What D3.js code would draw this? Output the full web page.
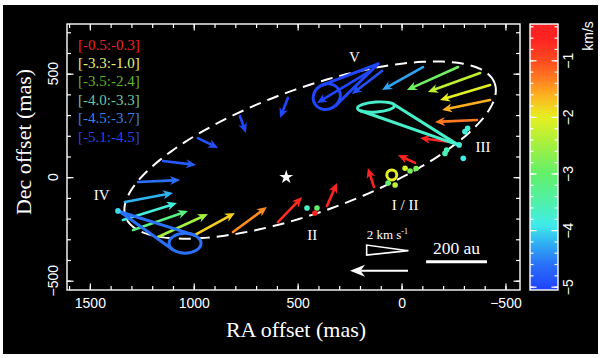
<!DOCTYPE html>
<html>
<head>
<meta charset="utf-8">
<script src="https://cdn.jsdelivr.net/npm/d3@7"></script>
<style>
  html, body { margin: 0; padding: 0; background: #fff; }
  svg { display: block; }
</style>
</head>
<body>
<div id="chart"></div>
<script>
// Axes (mas) and colour bar (km/s)
const xMajor = [1500, 1000, 500, 0, -500];
const yMajor = [500, 0, -500];
const cbMajor = [-1, -2, -3, -4, -5];

// Velocity colour map
const cStops  = [-5.1, -4.6, -4.2, -3.9, -3.5, -3.0, -2.5, -2.0, -1.6, -1.3, -1.0, -0.6, -0.3];
const cColors = ["#1e3cff", "#2a70f8", "#30b4f2", "#40ecea", "#50f0aa", "#62f06a",
                 "#a2f040", "#e6f020", "#ffb020", "#ff7a20", "#ff4a20", "#ff2222", "#ff2222"];

// Velocity-range legend
const rangeLabels = ["[-0.5:-0.3]", "[-3.3:-1.0]", "[-3.5:-2.4]", "[-4.0:-3.3]", "[-4.5:-3.7]", "[-5.1:-4.5]"];
const rangeColors = ["#ee2222", "#e8f07a", "#66b42c", "#6cc8a2", "#3c82e6", "#2846e2"];

// Proper-motion arrows: [RA0, Dec0, RA1, Dec1, v]  (mas, km/s)
const arrows = [
  [980, 189, 883, 141, -4.9],
  [778, 296, 749, 214, -5.0],
  [547, 383, 585, 286, -5.0],
  [1148, 78, 989, 59, -4.8],
  [1268, -23, 1066, -14, -4.6],
  [1331, -120, 1100, -76, -4.2],
  [1341, -207, 1081, -125, -3.8],
  [1292, -255, 1028, -163, -3.2],
  [1172, -289, 932, -178, -2.5],
  [994, -279, 802, -173, -1.8],
  [811, -265, 648, -144, -1.4],
  [595, -217, 479, -96, -0.7],
  [359, -139, 311, -28, -0.5],
  [133, -47, 162, 44, -0.5],
  [-65, 69, 17, 107, -0.5],
  [-238, 170, -89, 189, -0.6],
  [-363, 276, -161, 267, -1.3],
  [-426, 373, -195, 325, -1.6],
  [-426, 445, -185, 373, -2.0],
  [-378, 503, -127, 412, -2.3],
  [-272, 532, -26, 421, -2.9],
  [-103, 532, 94, 421, -4.3],
  [142, 518, 407, 358, -5.0],
  [94, 513, 239, 402, -4.9]
];

// Loops with tails: [RA, Dec, rx, ry (mas), tilt (deg), tipRA, tipDec, v]
const loops = [
  [360, 389, 67, 60, -30, 113, 547, -5.0],   // V
  [123, 339, 89, 24, -4, -272, 156, -3.7],   // III
  [1042, -319, 77, 48, 0, 1355, -167, -4.6]  // IV
];

// Small closed ring near I / II: [RA, Dec, r (mas), v]
const rings = [[47, 11, 24, -2.0]];

// Maser spots: [RA, Dec, v]
const spots = [
  [-318, 236, -3.8], [-305, 220, -3.8], [-277, 156, -3.8], [-297, 91, -3.9],
  [-217, 131, -3.6], [-209, 115, -3.6],
  [-17, 43, -2.1], [-41, 30, -2.8], [-70, 42, -2.8], [65, -28, -3.0], [31, -38, -2.3],
  [455, -149, -3.7], [407, -149, -3.0], [417, -173, -0.5],
  [1365, -163, -4.0]
];

// Feature names
const featureNames = ["V", "III", "IV", "I / II", "II"];
const featureRA    = [227, -392, 1443, -17, 430];
const featureDec   = [579, 147, -86, -134, -279];

// Star and fitted ring: centre (mas), semi-axes (mas), PA (deg)
const star = [555, 0];
const ring = [440, 131, 945, 299, 20];

// Keys: 200 au bar and 2 km/s arrow (mas)
const auBar = [-118, -411, -408];
const velKey = [-31, 248, -452];
const velTriangle = [[168, -328], [168, -376], [-33, -355]];

// ---------------------------------------------------------------
const W = 600, H = 358;
const svg = d3.select("#chart").append("svg").attr("width", W).attr("height", H);

svg.append("rect").attr("x", 3).attr("y", 5).attr("width", 595).attr("height", 349).attr("fill", "#000");

const x = d3.scaleLinear().domain([1610, -570]).range([67, 520]);
const y = d3.scaleLinear().domain([-545, 740]).range([290, 24]);
const cb = d3.scaleLinear().domain([-5.05, -0.35]).range([290, 24]);
const vColor = d3.scaleLinear().domain(cStops).range(cColors).clamp(true);

const serif = "'Liberation Serif', 'Times New Roman', serif";
const sans = "'Liberation Sans', Arial, sans-serif";

// --- frame ticks (inward on all sides)
const xMinor = d3.range(1600, -600, -100);
const yMinor = d3.range(-500, 800, 100);
const fmt = d => (d < 0 ? "\u2212" + Math.abs(d) : String(d));

function addAxis(axis, tx, ty, labels) {
  const g = svg.append("g").attr("transform", `translate(${tx},${ty})`).call(axis);
  g.select(".domain").remove();
  g.selectAll("line").attr("stroke", "#fff").attr("stroke-width", 1.2);
  if (!labels) g.selectAll("text").remove();
  return g;
}
const bx = addAxis(d3.axisBottom(x).tickValues(xMajor).tickSizeInner(-6.5).tickSizeOuter(0).tickPadding(8).tickFormat(fmt), 0, 290, true);
bx.selectAll("text").attr("fill", "#fff").style("font-family", sans).style("font-size", "14px");
addAxis(d3.axisBottom(x).tickValues(xMinor).tickSizeInner(-4).tickSizeOuter(0), 0, 290, false);
addAxis(d3.axisTop(x).tickValues(xMajor).tickSizeInner(-6.5).tickSizeOuter(0), 0, 24, false);
addAxis(d3.axisTop(x).tickValues(xMinor).tickSizeInner(-4).tickSizeOuter(0), 0, 24, false);
addAxis(d3.axisLeft(y).tickValues(yMajor).tickSizeInner(-6.5).tickSizeOuter(0), 67, 0, false);
addAxis(d3.axisLeft(y).tickValues(yMinor).tickSizeInner(-4).tickSizeOuter(0), 67, 0, false);
addAxis(d3.axisRight(y).tickValues(yMajor).tickSizeInner(-6.5).tickSizeOuter(0), 520, 0, false);
addAxis(d3.axisRight(y).tickValues(yMinor).tickSizeInner(-4).tickSizeOuter(0), 520, 0, false);

// y tick labels, rotated
svg.selectAll("text.ylab")
  .data(yMajor)
  .join("text")
  .attr("class", "ylab")
  .attr("transform", d => `translate(58,${y(d)}) rotate(-90)`)
  .attr("text-anchor", "middle")
  .attr("fill", "#fff")
  .style("font-family", sans)
  .style("font-size", "14px")
  .text(fmt);

// axis titles
svg.append("text")
  .attr("x", 296).attr("y", 337)
  .attr("text-anchor", "middle")
  .attr("fill", "#fff")
  .style("font-family", serif).style("font-size", "22px")
  .text("RA offset (mas)");
svg.append("text")
  .attr("transform", "translate(31,142) rotate(-90)")
  .attr("text-anchor", "middle")
  .attr("fill", "#fff")
  .style("font-family", serif).style("font-size", "22px")
  .text("Dec offset (mas)");

// --- clip for plot contents
svg.append("clipPath").attr("id", "plotclip")
  .append("rect").attr("x", 67).attr("y", 24).attr("width", 453).attr("height", 266);
const plot = svg.append("g").attr("clip-path", "url(#plotclip)");

// --- dashed ring
const deg = Math.PI / 180;
const ringPts = d3.range(0, 361, 2).map(t => {
  const [ra0, dec0, a, b, pa] = ring;
  const u = a * Math.cos(t * deg), w = b * Math.sin(t * deg);
  const ex = u * Math.cos(pa * deg) - w * Math.sin(pa * deg);
  const ny = u * Math.sin(pa * deg) + w * Math.cos(pa * deg);
  return [ra0 - ex, dec0 + ny];
});
plot.append("path")
  .attr("d", d3.line().x(d => x(d[0])).y(d => y(d[1])).curve(d3.curveLinearClosed)(ringPts))
  .attr("fill", "none")
  .attr("stroke", "#fff")
  .attr("stroke-width", 2)
  .attr("stroke-dasharray", "12,7");

// --- arrows
function arrowShapes(x0, y0, x1, y1, hl, hw) {
  const dx = x1 - x0, dy = y1 - y0, L = Math.hypot(dx, dy);
  const ux = dx / L, uy = dy / L, nx = -uy, ny = ux;
  const bxp = x1 - ux * hl, byp = y1 - uy * hl;
  const mx = x1 - ux * hl * 0.7, my = y1 - uy * hl * 0.7;
  return {
    line: [x0, y0, mx, my],
    head: `M${x1},${y1}L${bxp + nx * hw},${byp + ny * hw}L${mx},${my}L${bxp - nx * hw},${byp - ny * hw}Z`
  };
}

const arrowG = plot.append("g");
arrows.forEach(a => {
  const s = arrowShapes(x(a[0]), y(a[1]), x(a[2]), y(a[3]), 10, 4.5);
  const col = vColor(a[4]);
  arrowG.append("line")
    .attr("x1", s.line[0]).attr("y1", s.line[1])
    .attr("x2", s.line[2]).attr("y2", s.line[3])
    .attr("stroke", col).attr("stroke-width", 2.6).attr("stroke-linecap", "round");
  arrowG.append("path").attr("d", s.head).attr("fill", col);
});

// --- loops with tails (ellipse + tangent lines to tip)
loops.forEach(l => {
  const [ra0, dec0, rxm, rym, tilt, tra, tdec, v] = l;
  const cx = x(ra0), cy = y(dec0);
  const rx = Math.abs(x(ra0 + rxm) - cx), ry = Math.abs(y(dec0 + rym) - cy);
  const tx = x(tra), ty = y(tdec);
  const r = tilt * deg;
  const dx = tx - cx, dy = ty - cy;
  const lx = dx * Math.cos(-r) - dy * Math.sin(-r);
  const ly = dx * Math.sin(-r) + dy * Math.cos(-r);
  const qx = lx / rx, qy = ly / ry, qd = Math.hypot(qx, qy);
  const base = Math.atan2(qy, qx), delta = Math.acos(1 / qd);
  const col = vColor(v);
  const g = plot.append("g");
  g.append("ellipse")
    .attr("transform", `translate(${cx},${cy}) rotate(${tilt})`)
    .attr("rx", rx).attr("ry", ry)
    .attr("fill", "none").attr("stroke", col).attr("stroke-width", 3);
  [base + delta, base - delta].forEach(t => {
    const px = rx * Math.cos(t), py = ry * Math.sin(t);
    const gx = cx + px * Math.cos(r) - py * Math.sin(r);
    const gy = cy + px * Math.sin(r) + py * Math.cos(r);
    g.append("line")
      .attr("x1", tx).attr("y1", ty).attr("x2", gx).attr("y2", gy)
      .attr("stroke", col).attr("stroke-width", 3).attr("stroke-linecap", "round");
  });
});

plot.selectAll("circle.ring")
  .data(rings)
  .join("circle")
  .attr("class", "ring")
  .attr("cx", d => x(d[0]))
  .attr("cy", d => y(d[1]))
  .attr("r", d => Math.abs(x(d[0] + d[2]) - x(d[0])))
  .attr("fill", "none")
  .attr("stroke", d => vColor(d[3]))
  .attr("stroke-width", 3);

plot.selectAll("circle.spot")
  .data(spots)
  .join("circle")
  .attr("class", "spot")
  .attr("cx", d => x(d[0]))
  .attr("cy", d => y(d[1]))
  .attr("r", 2.8)
  .attr("fill", d => vColor(d[2]));

// star
plot.append("path")
  .attr("transform", `translate(${x(star[0])},${y(star[1])})`)
  .attr("d", d3.symbol(d3.symbolStar, 60)())
  .attr("fill", "#fff");

// feature names
plot.selectAll("text.feat")
  .data(featureNames)
  .join("text")
  .attr("class", "feat")
  .attr("x", (d, i) => x(featureRA[i]))
  .attr("y", (d, i) => y(featureDec[i]) + 5)
  .attr("text-anchor", "middle")
  .attr("fill", "#fff")
  .style("font-family", serif)
  .style("font-size", "15px")
  .text(d => d);

// velocity-range legend
svg.selectAll("text.range")
  .data(rangeLabels)
  .join("text")
  .attr("class", "range")
  .attr("x", 78)
  .attr("y", (d, i) => 49.5 + i * 18.4)
  .attr("fill", (d, i) => rangeColors[i])
  .style("font-family", serif)
  .style("font-size", "15px")
  .text(d => d);

// 200 au bar
plot.append("line")
  .attr("x1", x(auBar[0])).attr("x2", x(auBar[1]))
  .attr("y1", y(auBar[2])).attr("y2", y(auBar[2]))
  .attr("stroke", "#fff").attr("stroke-width", 3);
plot.append("text")
  .attr("x", (x(auBar[0]) + x(auBar[1])) / 2)
  .attr("y", y(auBar[2]) - 8)
  .attr("text-anchor", "middle")
  .attr("fill", "#fff")
  .style("font-family", serif).style("font-size", "17.5px")
  .text("200 au");

// 2 km/s key
const ks = arrowShapes(x(velKey[0]), y(velKey[2]), x(velKey[1]), y(velKey[2]), 15, 6);
plot.append("line")
  .attr("x1", ks.line[0]).attr("y1", ks.line[1])
  .attr("x2", ks.line[2]).attr("y2", ks.line[3])
  .attr("stroke", "#fff").attr("stroke-width", 2.2);
plot.append("path").attr("d", ks.head).attr("fill", "#fff");
plot.append("path")
  .attr("d", d3.line().x(d => x(d[0])).y(d => y(d[1])).curve(d3.curveLinearClosed)(velTriangle))
  .attr("fill", "none").attr("stroke", "#fff").attr("stroke-width", 1.6);
const kt = plot.append("text")
  .attr("x", x(velTriangle[0][0]))
  .attr("y", y(velTriangle[0][1]) - 6)
  .attr("fill", "#fff")
  .style("font-family", serif).style("font-size", "13px");
kt.append("tspan").text("2 km s");
kt.append("tspan").attr("dy", -5).style("font-size", "8px").text("-1");

// frame
svg.append("rect")
  .attr("x", 67).attr("y", 24).attr("width", 453).attr("height", 266)
  .attr("fill", "none").attr("stroke", "#fff").attr("stroke-width", 1.4);

// --- colour bar
const defs = svg.append("defs");
const grad = defs.append("linearGradient").attr("id", "cbgrad")
  .attr("x1", 0).attr("y1", 1).attr("x2", 0).attr("y2", 0);
const [cbLo, cbHi] = cb.domain();
d3.range(0, 1.0001, 0.02).forEach(f => {
  grad.append("stop").attr("offset", f).attr("stop-color", vColor(cbLo + f * (cbHi - cbLo)));
});
svg.append("rect")
  .attr("x", 530).attr("y", 24).attr("width", 28).attr("height", 266)
  .attr("fill", "url(#cbgrad)").attr("stroke", "#fff").attr("stroke-width", 1.4);

const cbMinor = d3.range(-5.0, -0.39, 0.2);
[[530, 1], [558, -1]].forEach(([sx, dir]) => {
  svg.append("g").selectAll("line")
    .data(cbMinor)
    .join("line")
    .attr("x1", sx).attr("x2", sx + dir * 3.5)
    .attr("y1", d => cb(d)).attr("y2", d => cb(d))
    .attr("stroke", "#fff").attr("stroke-width", 1.2);
  svg.append("g").selectAll("line")
    .data(cbMajor)
    .join("line")
    .attr("x1", sx).attr("x2", sx + dir * 6.5)
    .attr("y1", d => cb(d)).attr("y2", d => cb(d))
    .attr("stroke", "#fff").attr("stroke-width", 1.2);
});
svg.selectAll("text.cblab")
  .data(cbMajor)
  .join("text")
  .attr("class", "cblab")
  .attr("transform", d => `translate(573,${cb(d)}) rotate(-90)`)
  .attr("text-anchor", "middle")
  .attr("fill", "#fff")
  .style("font-family", sans).style("font-size", "14px")
  .text(fmt);
svg.append("text")
  .attr("transform", "translate(593,36) rotate(-90)")
  .attr("text-anchor", "middle")
  .attr("fill", "#fff")
  .style("font-family", sans).style("font-size", "14px")
  .text("km/s");
</script>
</body>
</html>
